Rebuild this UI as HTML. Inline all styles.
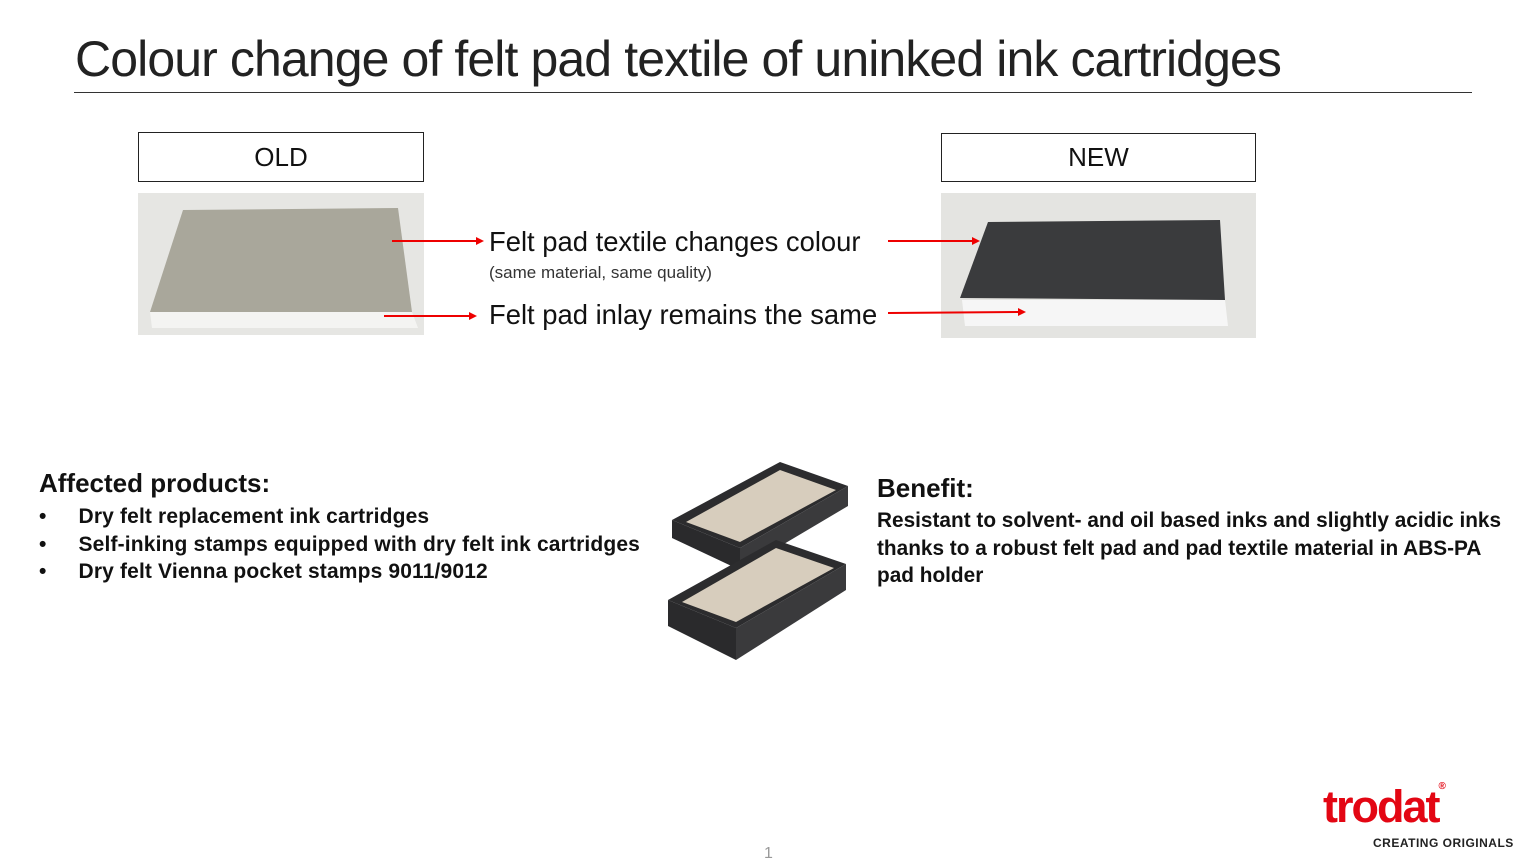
<!DOCTYPE html>
<html><head><meta charset="utf-8"><style>
body{margin:0;width:1540px;height:867px;background:#fff;position:relative;overflow:hidden;font-family:"Liberation Sans",sans-serif;}
.a{position:absolute;white-space:nowrap}
.box{position:absolute;border:1px solid #222;background:#fff;text-align:center;font-size:26px;color:#111}
.b{font-weight:bold;color:#111}
</style></head><body>
<div class="a" style="left:75px;top:30px;font-size:50px;color:#222;letter-spacing:-0.9px;font-weight:300">Colour change of felt pad textile of uninked ink cartridges</div>
<div class="a" style="left:74px;top:92px;width:1398px;height:1px;background:#333"></div>

<div class="box" style="left:138px;top:132px;width:284px;height:48px;line-height:48px">OLD</div>
<div class="box" style="left:941px;top:133px;width:313px;height:47px;line-height:47px">NEW</div>

<svg class="a" style="left:0;top:0" width="1540" height="867">
<rect x="138" y="193" width="286" height="142" fill="#e6e6e3"/>
<polygon points="150,312 412,312 418,328 152,328" fill="#f4f4f2"/>
<polygon points="183,210 398,208 412,312 150,312" fill="#a9a79b"/>
<rect x="941" y="193" width="315" height="145" fill="#e4e4e1"/>
<polygon points="962,300 1225,300 1228,326 965,326" fill="#f6f6f6"/>
<polygon points="988,222 1220,220 1225,300 960,298" fill="#3a3b3d"/>
<g stroke="#e00" stroke-width="2" fill="#e00">
<line x1="392" y1="241" x2="476" y2="241"/><polygon points="476,237 484,241 476,245" stroke="none"/>
<line x1="384" y1="316" x2="469" y2="316"/><polygon points="469,312 477,316 469,320" stroke="none"/>
<line x1="888" y1="241" x2="972" y2="241"/><polygon points="972,237 980,241 972,245" stroke="none"/>
<line x1="888" y1="313" x2="1018" y2="312"/><polygon points="1018,308 1026,312 1018,316" stroke="none"/>
</g>
<g>
<polygon points="672,520 780,462 848,486 740,548" fill="#2c2c2e"/>
<polygon points="686,522 780,470 836,490 740,542" fill="#d7cdbd"/>
<polygon points="672,520 740,548 740,570 672,538" fill="#2a2a2c"/>
<polygon points="740,548 848,486 848,506 740,570" fill="#3a3a3c"/>
<polygon points="668,600 776,540 846,564 736,628" fill="#2c2c2e"/>
<polygon points="682,602 776,548 834,568 736,622" fill="#d7cdbd"/>
<polygon points="668,600 736,628 736,660 668,626" fill="#2a2a2c"/>
<polygon points="736,628 846,564 846,590 736,660" fill="#3a3a3c"/>
</g>
</svg>

<div class="a" style="left:489px;top:226px;font-size:27.4px;color:#111">Felt pad textile changes colour</div>
<div class="a" style="left:489px;top:263px;font-size:17px;color:#333">(same material, same quality)</div>
<div class="a" style="left:489px;top:299px;font-size:27.4px;color:#111">Felt pad inlay remains the same</div>

<div class="a b" style="left:39px;top:468px;font-size:26px">Affected products:</div>
<div class="a b" style="left:39px;top:503px;font-size:21px;line-height:27.5px;letter-spacing:0.15px">
<div>•<span style="display:inline-block;width:32px"></span>Dry felt replacement ink cartridges</div>
<div>•<span style="display:inline-block;width:32px"></span>Self-inking stamps equipped with dry felt ink cartridges</div>
<div>•<span style="display:inline-block;width:32px"></span>Dry felt Vienna pocket stamps 9011/9012</div>
</div>

<div class="a b" style="left:877px;top:473px;font-size:26px">Benefit:</div>
<div class="a b" style="left:877px;top:507px;font-size:20.8px;line-height:27.5px">Resistant to solvent- and oil based inks and slightly acidic inks<br>thanks to a robust felt pad and pad textile material in ABS-PA<br>pad holder</div>

<div class="a" style="left:1323px;top:781px;font-size:45px;font-weight:bold;color:#e30613;letter-spacing:-2px">trodat<span style="font-size:10px;vertical-align:top;letter-spacing:0">®</span></div>
<div class="a" style="left:1373px;top:836px;font-size:12px;font-weight:bold;color:#222;letter-spacing:0.5px">CREATING ORIGINALS</div>
<div class="a" style="left:764px;top:845px;font-size:16px;color:#999">1</div>
</body></html>
